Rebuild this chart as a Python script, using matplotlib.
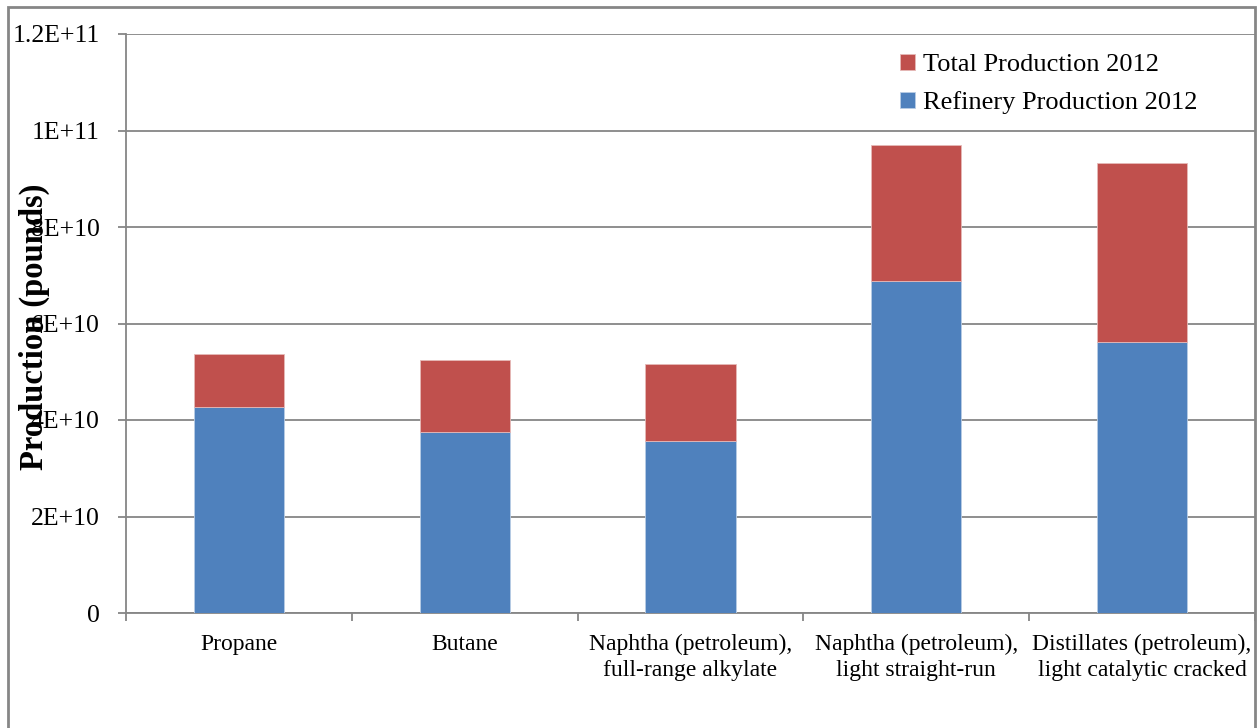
import matplotlib
matplotlib.use("Agg")
import matplotlib.pyplot as plt
from matplotlib.patches import Rectangle
import numpy as np

plt.rcParams['font.family'] = ['Liberation Serif', 'DejaVu Serif']

categories = ["Propane", "Butane",
              "Naphtha (petroleum),\nfull-range alkylate",
              "Naphtha (petroleum),\nlight straight-run",
              "Distillates (petroleum),\nlight catalytic cracked"]
refinery = [42.6e9, 37.5e9, 35.6e9, 68.9e9, 56.1e9]
total = [53.7e9, 52.4e9, 51.6e9, 97.0e9, 93.3e9]
yticks = [0, 2e10, 4e10, 6e10, 8e10, 1e11, 1.2e11]
ytick_labels = ["0", "2E+10", "4E+10", "6E+10", "8E+10", "1E+11", "1.2E+11"]

blue = "#4F81BD"
red = "#C0504D"
grey = "#868686"

fig = plt.figure(figsize=(12.57, 7.28), dpi=100)
ax = fig.add_axes([126/1257, 1-613/728, 1129/1257, 579/728])

x = np.arange(len(categories))
refinery = np.array(refinery)
total = np.array(total)
ax.bar(x, refinery, width=0.4, color=blue, edgecolor="#B9CDE5", linewidth=0.6,
       label="Refinery Production 2012", zorder=3)
ax.bar(x, total - refinery, width=0.4, bottom=refinery, color=red,
       edgecolor="#E6B9B8", linewidth=0.6, label="Total Production 2012", zorder=3)

ax.set_xlim(-0.5, len(categories) - 0.5)
ax.set_ylim(0, 1.2e11)
ax.set_yticks(yticks)
ax.set_yticklabels(ytick_labels, fontsize=18.5)
ax.set_xticks(x)
ax.set_xticklabels(categories, fontsize=17, linespacing=1.3)
ax.set_xticks(np.arange(-0.5, len(categories)), minor=True)
ax.tick_params(axis='x', which='major', length=0, pad=15)
ax.tick_params(axis='x', which='minor', length=6, width=1.3, color=grey)
ax.tick_params(axis='y', length=6, width=1.3, color=grey, pad=13)

ax.grid(axis='y', color=grey, linewidth=1.3, zorder=0)
for s in ['top', 'right']:
    ax.spines[s].set_visible(False)
for s in ['left', 'bottom']:
    ax.spines[s].set_color(grey)
    ax.spines[s].set_linewidth(1.3)

handles, labels = ax.get_legend_handles_labels()
leg = ax.legend(handles[::-1], labels[::-1], loc='upper right', bbox_to_anchor=(0.965, 0.997),
                frameon=True, fancybox=False, edgecolor='white', framealpha=1,
                fontsize=19, handlelength=0.55, handleheight=0.55, handletextpad=0.3,
                labelspacing=0.55, borderpad=0.2)

fig.text(34/1257, 1-327/728, "Production (pounds)", rotation=90, ha='center', va='center',
         fontsize=23.5, fontweight='bold')

fig.patches.append(Rectangle((8/1257, -0.1), 1247/1257, 1.1-7/728, transform=fig.transFigure,
                             fill=False, edgecolor=grey, linewidth=2, zorder=10))

fig.savefig("out.png", dpi=100)
